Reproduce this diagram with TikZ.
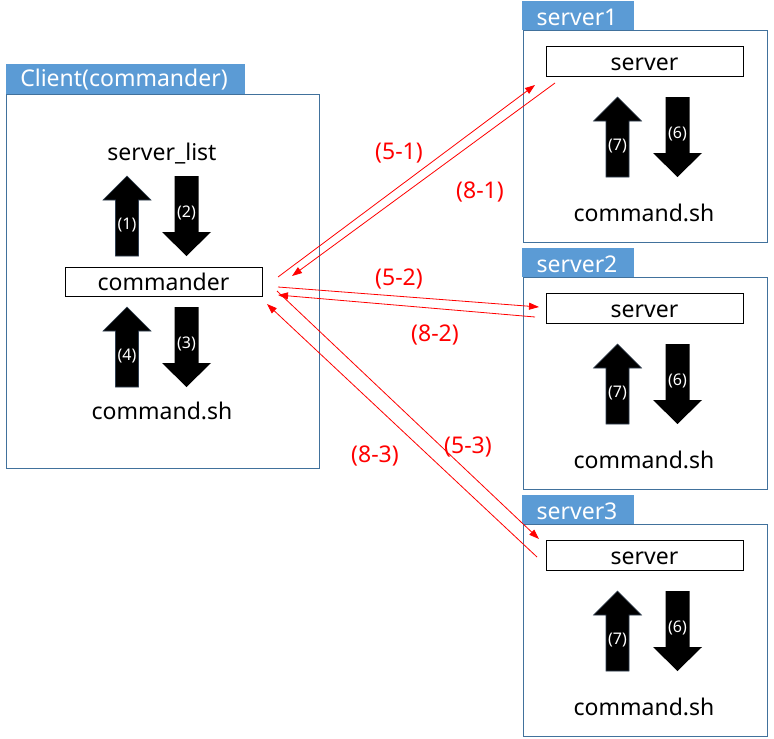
\documentclass[tikz,border=0pt]{standalone}
\usepackage{fontspec}
\setmainfont{Noto Sans}
\usetikzlibrary{arrows.meta,calc}
\definecolor{tabblue}{HTML}{5B9BD5}
\definecolor{boxline}{HTML}{41719C}
\definecolor{lnred}{HTML}{FF0000}
\definecolor{arredge}{HTML}{2F3E50}
\tikzset{
  frame/.style={draw=boxline, line width=0.9pt, inner sep=0, outer sep=0, anchor=north west},
  tabbox/.style={fill=tabblue, inner sep=0, outer sep=0, anchor=north west},
  wbox/.style={draw=black, line width=0.9pt, fill=white, inner sep=0, outer sep=0, anchor=north west},
  txt/.style={font=\fontsize{23}{26}\selectfont, inner sep=0, anchor=base},
  ttl/.style={font=\fontsize{23}{26}\selectfont, text=white, inner sep=0, anchor=base},
  rlab/.style={font=\fontsize{23}{26}\selectfont, text=lnred, inner sep=0, anchor=base},
  slab/.style={font=\fontsize{16}{18}\selectfont, text=white, inner sep=0, anchor=base},
  redarr/.style={draw=lnred, line width=0.8pt, -{Triangle[length=10pt,width=7pt]}},
  uparrow/.pic={
    \fill[black, draw=arredge, line width=0.6pt] (0,0) -- (24,24) -- (11.5,24) -- (11.5,80) -- (-11.5,80) -- (-11.5,24) -- (-24,24) -- cycle;
    \node[slab] at (0,53) {#1};
  },
  downarrow/.pic={
    \fill[black] (-12,0) -- (12,0) -- (12,56) -- (24.5,56) -- (0,80) -- (-24.5,56) -- (-12,56) -- cycle;
    \node[slab] at (0,41) {#1};
  }
}
\begin{document}
\begin{tikzpicture}[x=1pt,y=-1pt]
\useasboundingbox (0,0) rectangle (774,739);
\fill[white] (0,0) rectangle (774,739);

% client
\node[tabbox, minimum width=239, minimum height=30] (ctab) at (6,64) {};
\node[ttl] (ctitle) at (124,86) {Client(commander)};
\node[frame, minimum width=313, minimum height=374] (client) at (6,94) {};
\node[txt] (slist) at (162,160) {server\_list};
\node[wbox, minimum width=197, minimum height=29] (cmd) at (65,267) {};
\node[txt] (cmdtxt) at (163.5,290) {commander};
\node[txt] (csh) at (162,419) {command.sh};
\pic at (127,176) {uparrow={(1)}};
\pic at (186.5,176) {downarrow={(2)}};
\pic at (127,307) {uparrow={(4)}};
\pic at (186.5,307) {downarrow={(3)}};

% servers
\foreach \i/\dy in {1/0,2/247,3/494}{
  \node[tabbox, minimum width=112, minimum height=29] (stab\i) at (522,{1+\dy}) {};
  \node[ttl] (stitle\i) at (577,{25+\dy}) {server\i};
  \node[frame, minimum width=244, minimum height=212] (sframe\i) at (523,{30+\dy}) {};
  \node[wbox, minimum width=197, minimum height=30] (srv\i) at (546,{46+\dy}) {};
  \node[txt] (srvtxt\i) at (644.5,{70+\dy}) {server};
  \node[txt] (ssh\i) at (644,{221+\dy}) {command.sh};
  \pic at (617.5,{97+\dy}) {uparrow={(7)}};
  \pic at (677.5,{97+\dy}) {downarrow={(6)}};
}

% connector end points
\coordinate (a51s) at (278,277);  \coordinate (a51e) at (535,85);
\coordinate (a81s) at (555,83);   \coordinate (a81e) at (292,276);
\coordinate (a52s) at (278,287);  \coordinate (a52e) at (539,307);
\coordinate (a82s) at (535,317);  \coordinate (a82e) at (278,295);
\coordinate (a53s) at (277,291);  \coordinate (a53e) at (539,539);
\coordinate (a83s) at (537,557);  \coordinate (a83e) at (267,304);

\draw[redarr] (a51s) -- (a51e);
\draw[redarr] (a81s) -- (a81e);
\draw[redarr] (a52s) -- (a52e);
\draw[redarr] (a82s) -- (a82e);
\draw[redarr] (a53s) -- (a53e);
\draw[redarr] (a83s) -- (a83e);

\node[rlab] (l51) at (399,159) {(5-1)};
\node[rlab] (l81) at (480,198) {(8-1)};
\node[rlab] (l52) at (399,285) {(5-2)};
\node[rlab] (l82) at (435,341) {(8-2)};
\node[rlab] (l53) at (468,453) {(5-3)};
\node[rlab] (l83) at (375,462) {(8-3)};
\end{tikzpicture}
\end{document}
